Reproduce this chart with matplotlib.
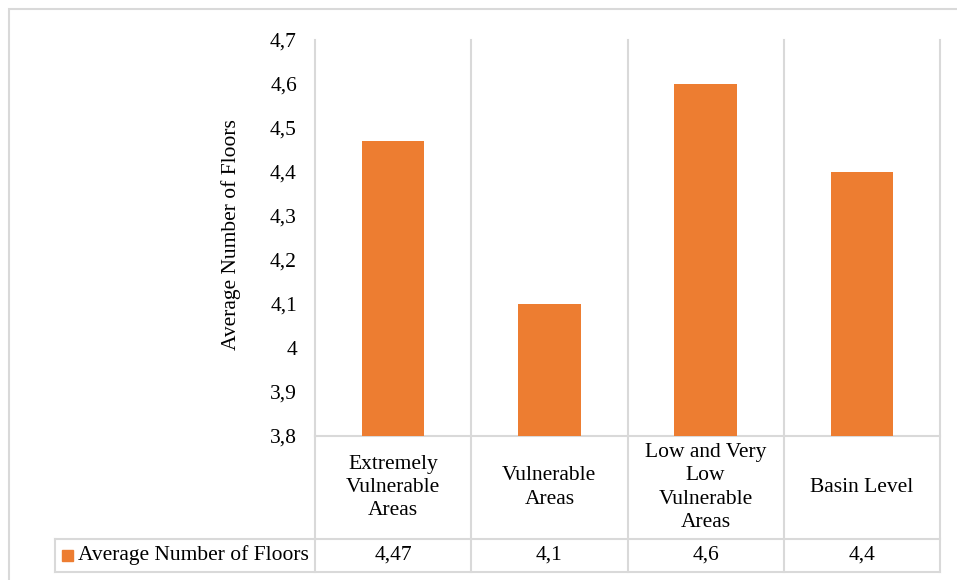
import matplotlib.pyplot as plt
from matplotlib.patches import Rectangle
from matplotlib.transforms import blended_transform_factory

categories = ["Extremely\nVulnerable\nAreas", "Vulnerable\nAreas",
              "Low and Very\nLow\nVulnerable\nAreas", "Basin Level"]
values = [4.47, 4.1, 4.6, 4.4]
value_labels = ["4,47", "4,1", "4,6", "4,4"]
series_name = "Average Number of Floors"
yticks = [3.8, 3.9, 4.0, 4.1, 4.2, 4.3, 4.4, 4.5, 4.6, 4.7]

plt.rcParams['font.family'] = ['Liberation Serif', 'DejaVu Serif']
plt.rcParams['font.size'] = 15.5

grid = '#d9d9d9'
orange = '#ED7D31'
W, H = 957, 580

fig = plt.figure(figsize=(W / 100, H / 100), dpi=100)
ax = fig.add_axes([315 / W, 1 - 436 / H, 625 / W, 396 / H])

x = range(len(values))
ax.bar(x, [v - 3.8 for v in values], bottom=3.8, width=0.4, color=orange, zorder=3)
ax.set_xlim(-0.5, len(values) - 0.5)
ax.set_ylim(3.8, 4.7)
ax.set_yticks(yticks)
ax.set_yticklabels([("%g" % t).replace('.', ',') for t in yticks])
ax.tick_params(axis='y', length=0, pad=13)
ax.set_xticks([])
for s in ['top', 'right']:
    ax.spines[s].set_visible(False)
for s in ['left', 'bottom']:
    ax.spines[s].set_color(grid)
    ax.spines[s].set_linewidth(1.5)
ax.set_ylabel(series_name)
ax.yaxis.set_label_coords(-0.119, 0.508)

# data table under the axis
tr = blended_transform_factory(ax.transData, ax.transAxes)
row1 = -(539 - 436) / 396
row2 = -(572 - 436) / 396
px = len(values) / 625  # data units per pixel along x
leg_left = -0.5 - (315 - 55) * px
lkw = dict(color=grid, lw=1.5, clip_on=False, transform=tr, zorder=1)
for i in range(len(values) + 1):
    xb = i - 0.5
    ax.plot([xb, xb], [1.0 if 0 < i else 0, row2], **lkw)
ax.plot([-0.5, len(values) - 0.5], [row1, row1], **lkw)
ax.plot([leg_left, len(values) - 0.5], [row2, row2], **lkw)
ax.plot([leg_left, -0.5], [row1, row1], **lkw)
ax.plot([leg_left, leg_left], [row1, row2], **lkw)

for i, (c, vl) in enumerate(zip(categories, value_labels)):
    ax.text(i, row1 / 2, c, transform=tr, ha='center', va='center',
            linespacing=1.32)
    ax.text(i, (row1 + row2) / 2, vl, transform=tr, ha='center', va='center')

# legend key in the first table cell
mid = (row1 + row2) / 2
ax.add_patch(Rectangle((-0.5 - (315 - 62) * px, mid - 5.5 / 396), 11 * px, 11 / 396,
                       transform=tr, color=orange, clip_on=False))
ax.text(-0.5 - (315 - 78) * px, mid, series_name, transform=tr,
        ha='left', va='center')

# chart area frame
fig.patches.append(Rectangle((9 / W, -0.1), 1.2, 1 - 9 / H + 0.1, transform=fig.transFigure,
                             fill=False, edgecolor=grid, lw=1.5))

fig.savefig('out.png', dpi=100)
